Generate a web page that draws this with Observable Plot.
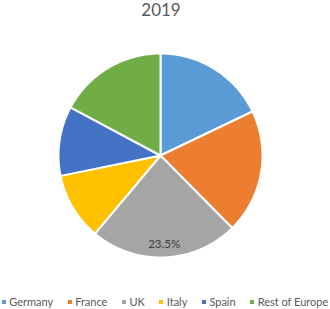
<!DOCTYPE html>
<html>
<head>
<meta charset="utf-8">
<script src="https://cdn.jsdelivr.net/npm/d3@7"></script>
<script src="https://cdn.jsdelivr.net/npm/@observablehq/plot@0.6"></script>
<style>
  html, body { margin: 0; padding: 0; background: #fff; }
  #wrap { position: relative; width: 330px; height: 309px; overflow: hidden; font-family: Lato, "Open Sans", sans-serif; }
  #title { position: absolute; left: 0; top: 0; width: 322px; text-align: center; font-size: 17px; line-height: 20px; color: #595959; }
  #chart { position: absolute; left: 0; top: 22px; }
  #legend { position: absolute; left: 0; top: 295px; width: 330px; display: flex; justify-content: center; gap: 14.5px; font-size: 11px; line-height: 14px; color: #595959; white-space: nowrap; }
  .item { display: flex; align-items: center; }
  .sw { width: 4px; height: 4px; margin-right: 3.5px; }
</style>
</head>
<body>
<div id="wrap">
  <div id="title"></div>
  <div id="chart"></div>
  <div id="legend"></div>
</div>
<script>
const title = "2019";
const categories = ["Germany", "France", "UK", "Italy", "Spain", "Rest of Europe"];
const shares = [17.9, 19.7, 23.5, 10.7, 11.0, 17.2];
const colors = ["#5B9BD5", "#ED7D31", "#A5A5A5", "#FFC000", "#4472C4", "#70AD47"];
const labelled = ["UK"];
const labelTexts = ["23.5%"];

const data = categories.map((name, i) => ({name, value: shares[i]}));
const arcs = d3.pie().sort(null).value(d => d.value)(data);

const pts = [];
for (const a of arcs) {
  const name = a.data.name;
  const n = Math.max(4, Math.ceil((a.endAngle - a.startAngle) * 80));
  pts.push({name, x: 0, y: 0});
  for (let k = 0; k <= n; k++) {
    const t = a.startAngle + (a.endAngle - a.startAngle) * k / n;
    pts.push({name, x: Math.sin(t), y: Math.cos(t)});
  }
  pts.push({name, x: 0, y: 0});
}

const labels = arcs.filter(a => labelled.includes(a.data.name)).map(a => {
  const m = (a.startAngle + a.endAngle) / 2;
  const r = 0.87;
  return {x: r * Math.sin(m), y: r * Math.cos(m), text: labelTexts[labelled.indexOf(a.data.name)]};
});

const chart = Plot.plot({
  width: 330,
  height: 264,
  marginLeft: 58,
  marginRight: 68,
  marginTop: 31,
  marginBottom: 29,
  x: {domain: [-1, 1], axis: null},
  y: {domain: [-1, 1], axis: null},
  color: {domain: categories, range: colors},
  style: {fontFamily: "Lato, 'Open Sans', sans-serif", background: "transparent"},
  marks: [
    Plot.line(pts, {x: "x", y: "y", z: "name", fill: "name", stroke: "white", strokeWidth: 2, strokeLinejoin: "round", curve: "linear"}),
    Plot.text(labels, {x: "x", y: "y", text: "text", fill: "#404040", fontSize: 11.5})
  ]
});

document.getElementById("title").textContent = title;
document.getElementById("chart").appendChild(chart);
const legend = document.getElementById("legend");
categories.forEach((c, i) => {
  const item = document.createElement("div");
  item.className = "item";
  const sw = document.createElement("span");
  sw.className = "sw";
  sw.style.background = colors[i];
  const tx = document.createElement("span");
  tx.textContent = c;
  item.appendChild(sw);
  item.appendChild(tx);
  legend.appendChild(item);
});
</script>
</body>
</html>
